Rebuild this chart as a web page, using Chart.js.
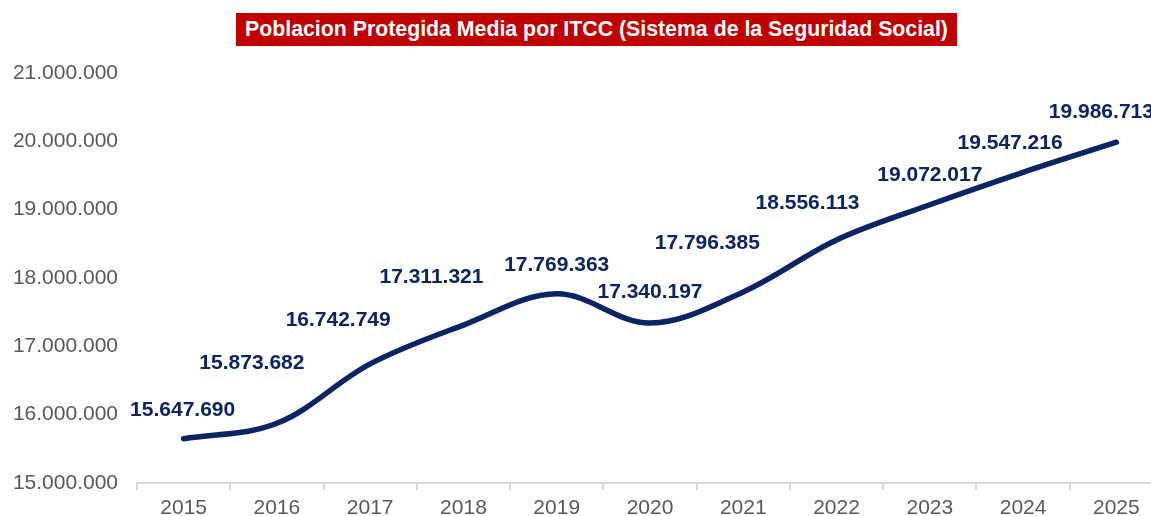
<!DOCTYPE html>
<html>
<head>
<meta charset="utf-8">
<script src="https://cdn.jsdelivr.net/npm/chart.js@4"></script>
<style>
  html, body { margin: 0; padding: 0; background: #fff; overflow: hidden; width: 1151px; height: 516px; }
  #wrap { position: relative; width: 1180px; height: 516px; }
  #title {
    position: absolute; left: 236px; top: 13px; width: 721px; height: 33px;
    background: #c00000; color: #fff; font: bold 21.3px "Liberation Sans", Arial, sans-serif;
    line-height: 33px; text-align: center; white-space: nowrap;
  }
  canvas { position: absolute; left: 0; top: 0; }
</style>
</head>
<body>
<div id="wrap">
  <canvas id="c" width="1180" height="516"></canvas>
  <div id="title">Poblacion Protegida Media por ITCC (Sistema de la Seguridad Social)</div>
</div>
<script>
const years = ['2015','2016','2017','2018','2019','2020','2021','2022','2023','2024','2025'];
const poblacion = [15647690, 15873682, 16742749, 17311321, 17769363, 17340197, 17796385, 18556113, 19072017, 19547216, 19986713];
const yTicks = [15000000, 16000000, 17000000, 18000000, 19000000, 20000000, 21000000];

const fmt = v => String(Math.round(v)).replace(/\B(?=(\d{3})+(?!\d))/g, '.');
const FONT = '"Liberation Sans", Arial, sans-serif';

const valueLabels = {
  id: 'valueLabels',
  afterDatasetsDraw(chart, args, opts) {
    const ctx = chart.ctx;
    const meta = chart.getDatasetMeta(0);
    ctx.save();
    ctx.font = 'bold 21px ' + FONT;
    ctx.fillStyle = '#0b2464';
    ctx.textAlign = 'center';
    ctx.textBaseline = 'middle';
    meta.data.forEach((pt, i) => {
      const o = opts.offsets[i];
      ctx.fillText(fmt(chart.data.datasets[0].data[i]), pt.x + o[0], pt.y + o[1]);
    });
    ctx.restore();
  }
};

new Chart(document.getElementById('c'), {
  type: 'line',
  data: {
    labels: years,
    datasets: [{
      data: poblacion,
      borderColor: '#0b2464',
      borderWidth: 5.5,
      borderCapStyle: 'round',
      tension: 0.35,
      pointRadius: 0,
      pointHoverRadius: 0,
      fill: false
    }]
  },
  options: {
    responsive: false,
    animation: false,
    layout: { padding: { top: 73, right: 17, left: 0, bottom: 0 } },
    plugins: {
      legend: { display: false },
      tooltip: { enabled: false },
      valueLabels: {
        offsets: [[-1,-29],[-25,-60],[-32,-44],[-32,-48],[0,-29],[0,-31],[-36,-49],[-29,-37],[0,-30],[-13,-29],[-15,-30]]
      }
    },
    scales: {
      x: {
        offset: true,
        grid: { drawOnChartArea: false, drawTicks: true, tickLength: 7, offset: true, color: '#d9d9d9', lineWidth: 2 },
        border: { display: true, color: '#d9d9d9', width: 2 },
        ticks: { color: '#595959', font: { family: FONT, size: 21 }, padding: 6, maxRotation: 0 },
        afterFit(s) { s.height = 33; }
      },
      y: {
        min: 15000000,
        max: 21000000,
        afterBuildTicks(s) { s.ticks = yTicks.map(v => ({ value: v })); },
        grid: { display: false, drawTicks: false },
        border: { display: false },
        ticks: { color: '#595959', font: { family: FONT, size: 21 }, padding: 19, callback: v => fmt(v) },
        afterFit(s) { s.width = 137; }
      }
    }
  },
  plugins: [valueLabels]
});
</script>
</body>
</html>
